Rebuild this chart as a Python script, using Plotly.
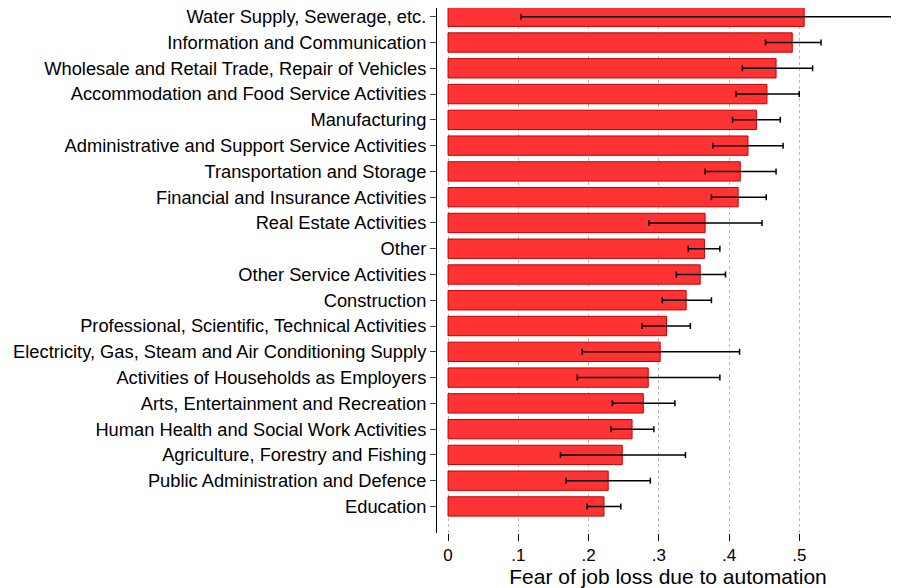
import plotly.graph_objects as go

industries = ["Water Supply, Sewerage, etc.","Information and Communication","Wholesale and Retail Trade, Repair of Vehicles",
"Accommodation and Food Service Activities","Manufacturing","Administrative and Support Service Activities",
"Transportation and Storage","Financial and Insurance Activities","Real Estate Activities","Other",
"Other Service Activities","Construction","Professional, Scientific, Technical Activities",
"Electricity, Gas, Steam and Air Conditioning Supply","Activities of Households as Employers",
"Arts, Entertainment and Recreation","Human Health and Social Work Activities","Agriculture, Forestry and Fishing",
"Public Administration and Defence","Education"]
means = [0.507,0.490,0.467,0.454,0.439,0.427,0.416,0.413,0.366,0.365,0.359,0.339,0.311,0.302,0.285,0.278,0.262,0.248,0.228,0.222]
lo = [0.104,0.452,0.419,0.410,0.405,0.377,0.366,0.375,0.286,0.342,0.325,0.305,0.276,0.191,0.184,0.234,0.232,0.160,0.168,0.198]
hi = [0.640,0.531,0.519,0.500,0.473,0.477,0.467,0.453,0.447,0.387,0.395,0.375,0.345,0.415,0.387,0.323,0.293,0.338,0.288,0.246]
tickvals = [0,0.1,0.2,0.3,0.4,0.5]
ticktext = ["0",".1",".2",".3",".4",".5"]

n = len(industries)
ypos = list(range(n))
fig = go.Figure(go.Bar(
    x=means, y=ypos, orientation="h", width=0.75,
    marker=dict(color="#FF3333", line=dict(color="#C00000", width=1)),
    error_x=dict(type="data", symmetric=False,
                 array=[h-m for h,m in zip(hi,means)], arrayminus=[m-l for m,l in zip(means,lo)],
                 color="black", thickness=1.5, width=3)))
fig.update_layout(width=899, height=588, margin=dict(l=429, r=8, t=0, b=63),
    plot_bgcolor="white", paper_bgcolor="white", showlegend=False,
    font=dict(family="Liberation Sans, Arial", color="black", size=17))
fig.update_yaxes(tickvals=ypos, ticktext=industries, range=[20.03, -0.34], autorange=False,
    automargin=False, showline=True, linecolor="black", ticks="outside", ticklen=6, showgrid=False, zeroline=False,
    tickfont=dict(size=18.3), ticklabeloverflow="allow")
fig.update_xaxes(range=[-0.0157, 0.642], tickvals=tickvals, ticktext=ticktext, ticks="outside", ticklen=7,
    automargin=False, tickcolor="black", showline=False, showgrid=True, gridcolor="#bbbbbb", griddash="dot", gridwidth=1,
    zeroline=False, title=dict(text="Fear of job loss due to automation", font=dict(size=21), standoff=4),
    tickfont=dict(size=17))
fig.write_html("out.html")
